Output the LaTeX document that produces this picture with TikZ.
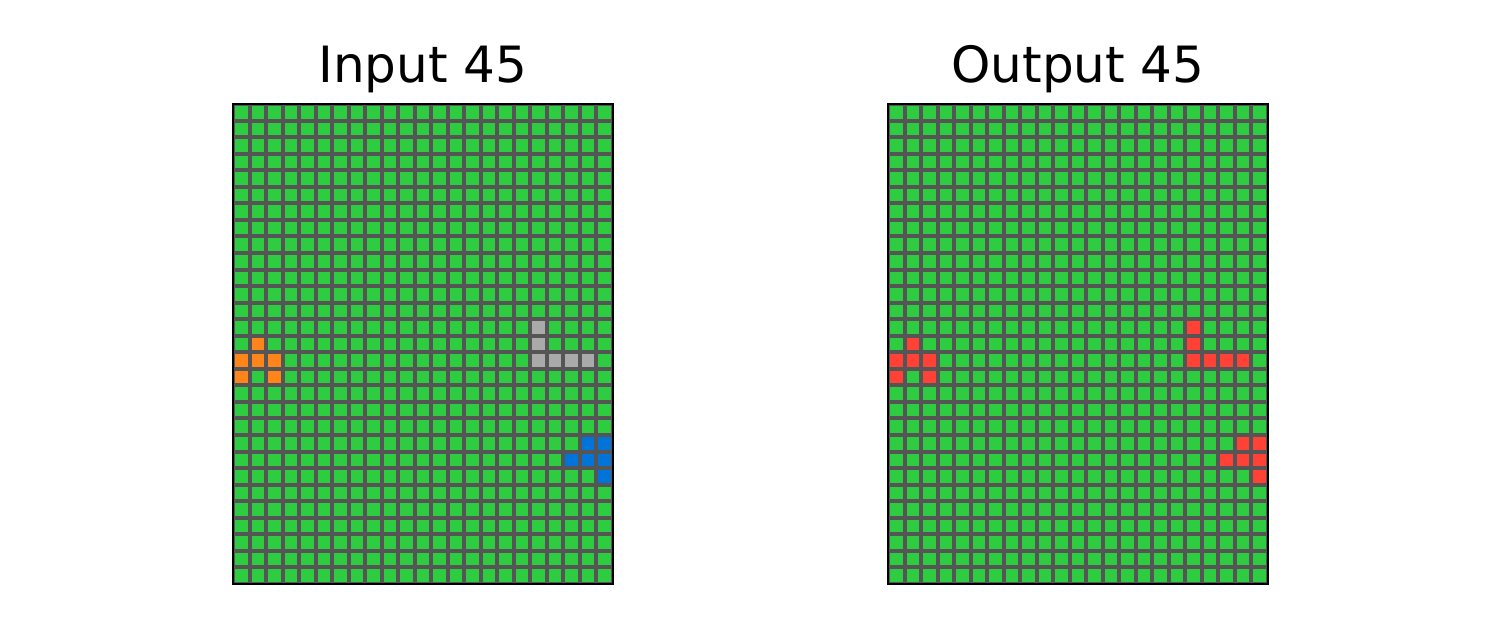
\documentclass[tikz,border=0pt]{standalone}
\usepackage{fontspec}
\setmainfont{DejaVu Sans}
\definecolor{arcgreen}{HTML}{2ECC40}
\definecolor{arcline}{HTML}{555555}
\definecolor{arcorange}{HTML}{FF851B}
\definecolor{arcgray}{HTML}{AAAAAA}
\definecolor{arcblue}{HTML}{0074D9}
\definecolor{arcred}{HTML}{FF4136}
\newcommand\arcgrid[1]{%
  \fill[arcline] (#1,104) rectangle ({#1+380},584);
  \foreach \r in {0,...,28}{
    \foreach \c in {0,...,22}{
      \fill[arcgreen] ({#1+\c*\cw+2},{104+\r*\ch+2}) rectangle ++({\cw-4},{\ch-4});
    }
  }
}
\newcommand\arccell[4]{%
  \fill[#4] ({#1+#3*\cw+2},{104+#2*\ch+2}) rectangle ++({\cw-4},{\ch-4});
}
\begin{document}
\begin{tikzpicture}[x=0.5pt,y=-0.5pt,
  title/.style={anchor=base,font=\fontsize{25}{30}\selectfont,inner sep=0pt},
  frame/.style={draw=black,line width=1pt}]
\useasboundingbox (0,0) rectangle (1500,629);
\def\cw{16.5217}
\def\ch{16.5517}
% input grid
\arcgrid{233}
\foreach \r/\c in {14/1,15/0,15/1,15/2,16/0,16/2}{\arccell{233}{\r}{\c}{arcorange}}
\foreach \r/\c in {13/18,14/18,15/18,15/19,15/20,15/21}{\arccell{233}{\r}{\c}{arcgray}}
\foreach \r/\c in {20/21,20/22,21/20,21/21,21/22,22/22}{\arccell{233}{\r}{\c}{arcblue}}
\draw[frame] (233,104) rectangle (613,584);
\node[title] (tin) at (423,82) {Input 45};
% output grid
\arcgrid{888}
\foreach \r/\c in {14/1,15/0,15/1,15/2,16/0,16/2,13/18,14/18,15/18,15/19,15/20,15/21,20/21,20/22,21/20,21/21,21/22,22/22}{\arccell{888}{\r}{\c}{arcred}}
\draw[frame] (888,104) rectangle (1268,584);
\node[title] (tout) at (1078,82) {Output 45};
\end{tikzpicture}
\end{document}
